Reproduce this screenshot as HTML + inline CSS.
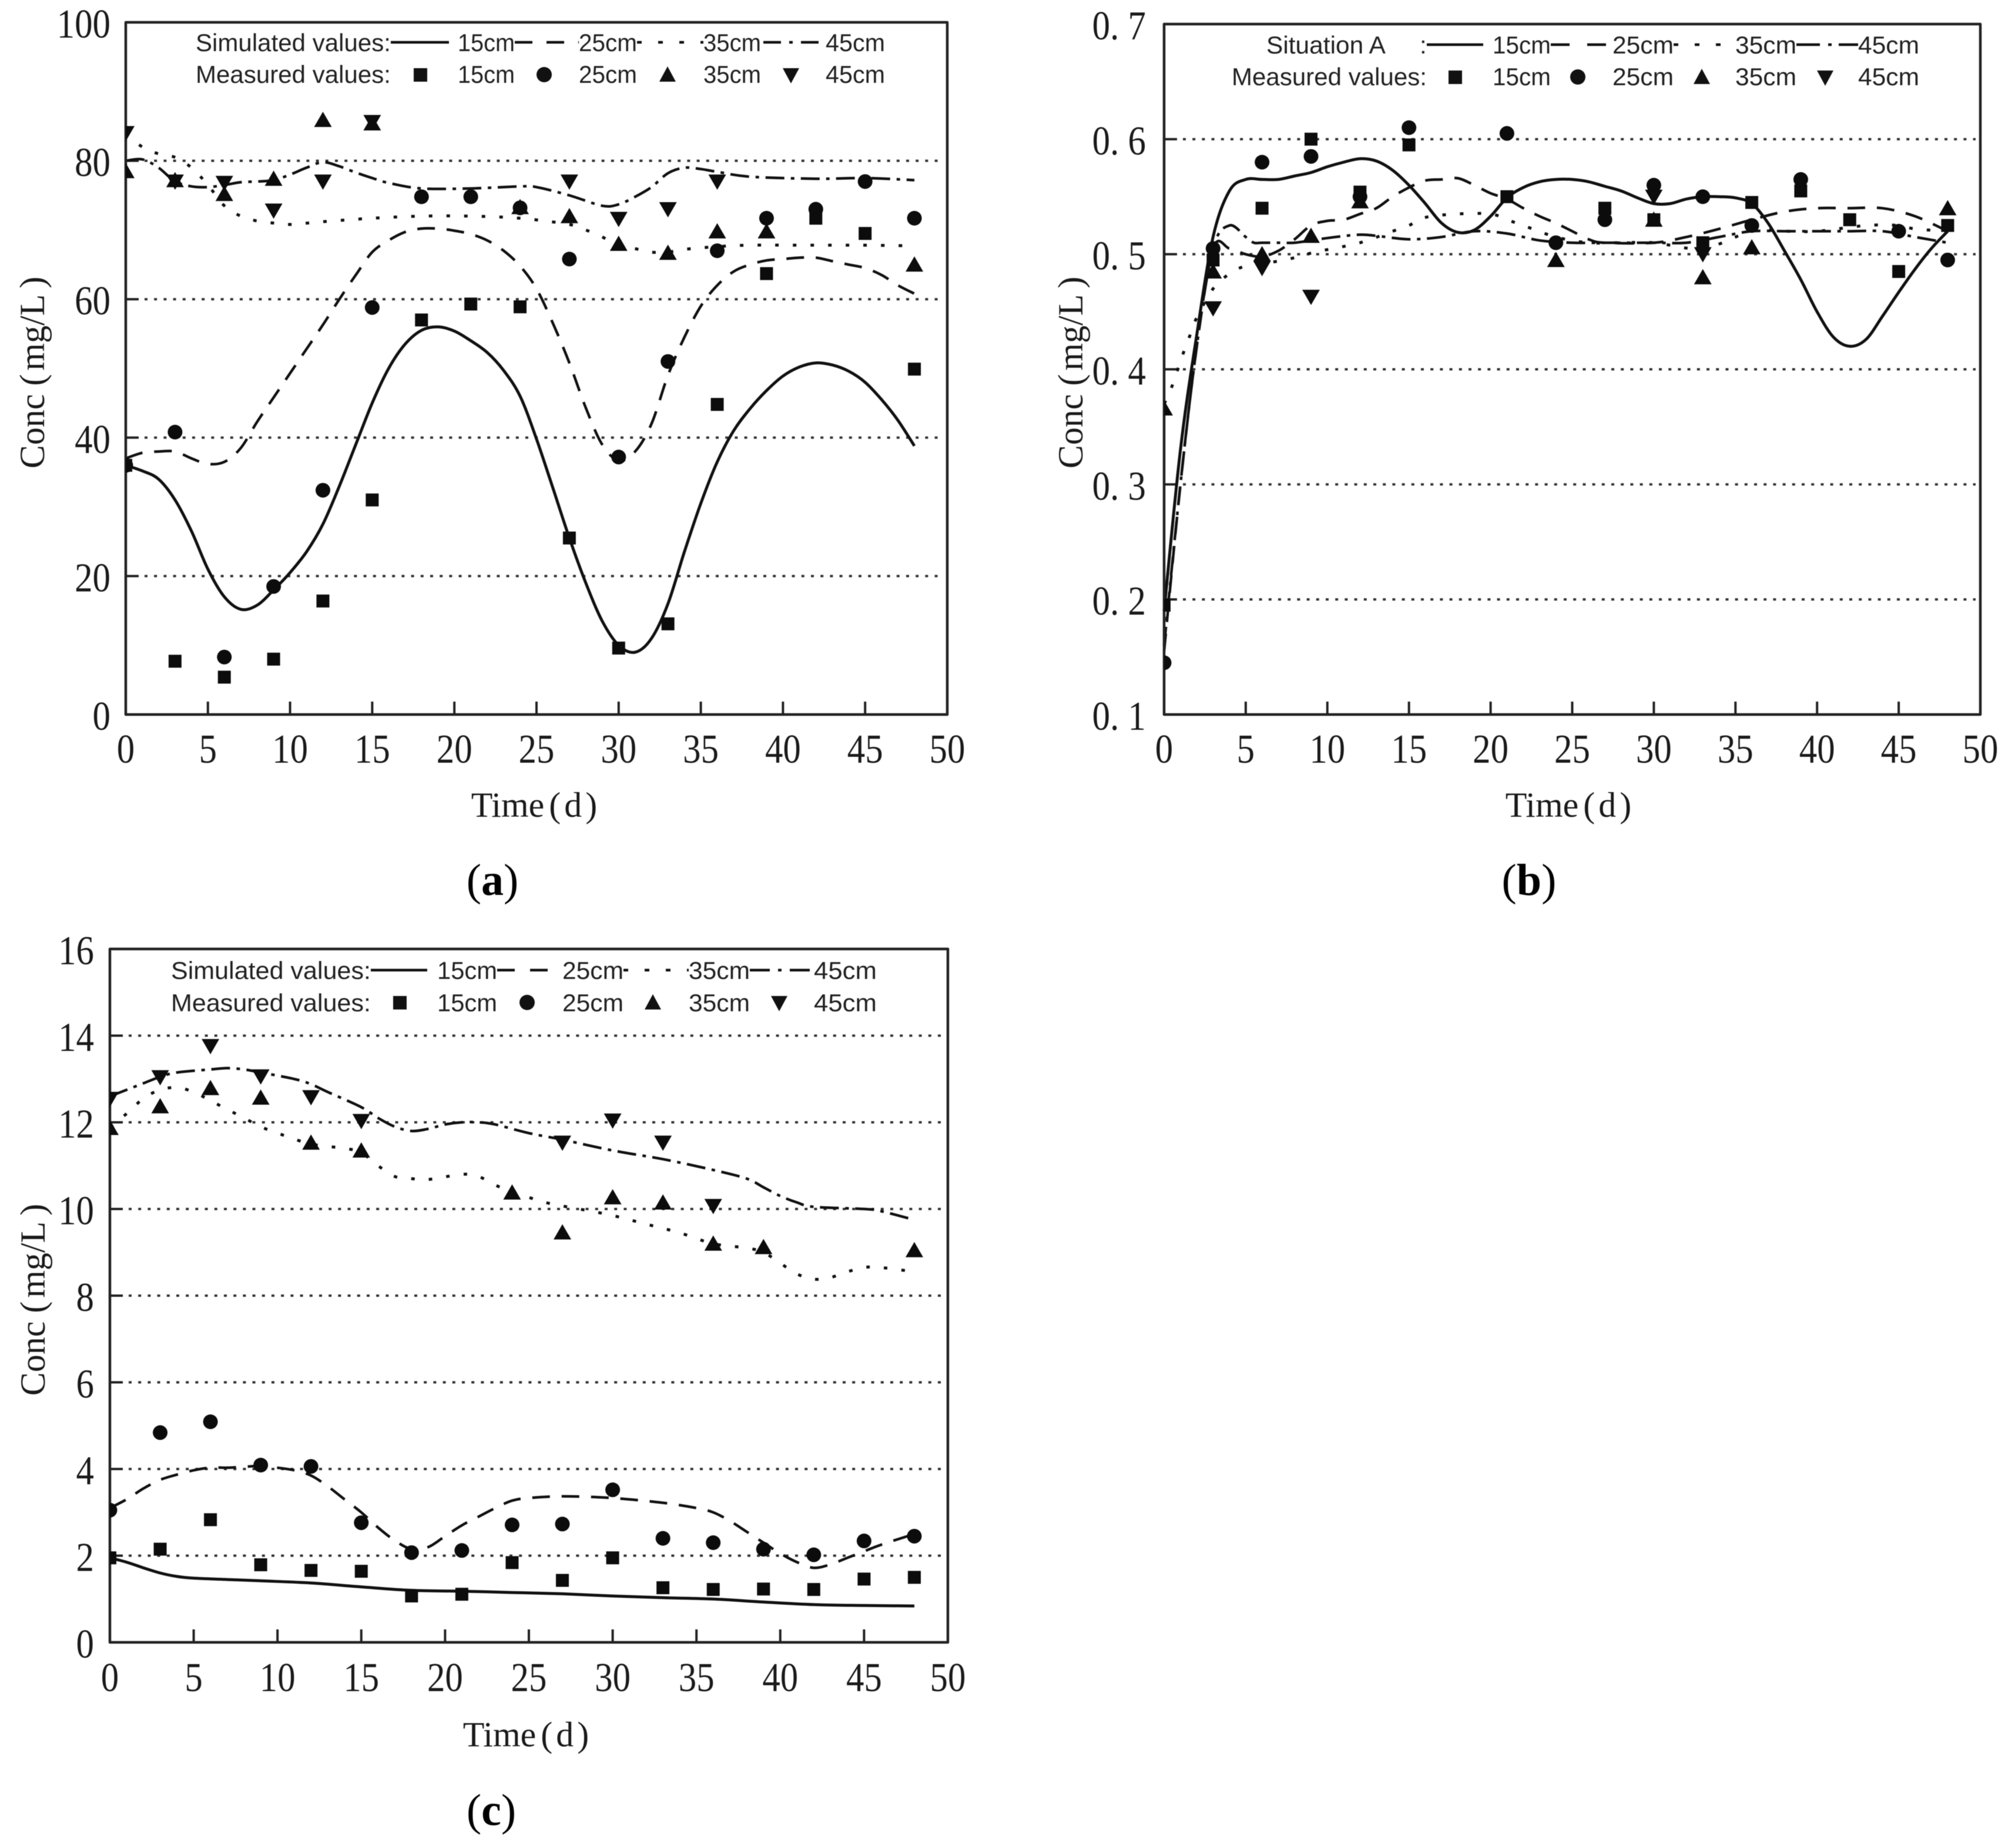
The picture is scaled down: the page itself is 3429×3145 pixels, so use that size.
<!DOCTYPE html>
<html lang="en">
<head>
<meta charset="utf-8">
<title>Simulated and measured concentration charts</title>
<style>
html,body{margin:0;padding:0;background:#fff;}
svg{display:block;filter:blur(0.6px);}
text{fill:#1a1a1a;}
.serif{font-family:"Liberation Serif","Noto Serif CJK SC",serif;}
.sans{font-family:"Liberation Sans","Noto Sans CJK SC",sans-serif;font-size:42px;fill:#222;}
.axt{font-family:"Liberation Serif","Noto Serif CJK SC",serif;font-size:60px;text-anchor:middle;}
.cap{font-family:"Liberation Serif",serif;font-size:76px;text-anchor:middle;fill:#000;}
.ls{stroke:#111;stroke-width:4.5;fill:none;}
</style>
</head>
<body>
<svg id="figure" xmlns="http://www.w3.org/2000/svg" width="3429" height="3145" viewBox="0 0 3429 3145">
<rect width="3429" height="3145" fill="#fff"/>
<defs>
<clipPath id="clip-a"><rect x="214" y="0" width="1500" height="1400"/></clipPath>
<clipPath id="clip-b"><rect x="1981" y="0" width="1448" height="1400"/></clipPath>
<clipPath id="clip-c"><rect x="187" y="1580" width="1500" height="1400"/></clipPath>
</defs>

<g id="panel-a"></g>
<g id="panel-b"></g>
<g id="panel-c"></g>

<!-- Panel (a) static labels -->
<g>
<text class="axt" x="909" y="1390">Time<tspan dx="8">(</tspan><tspan dx="6">d</tspan><tspan dx="6">)</tspan></text>
<text class="axt" transform="translate(75,634) rotate(-90)">Conc<tspan dx="14">(</tspan><tspan dx="6">mg/L</tspan><tspan dx="10">)</tspan></text>
<text class="cap" x="838" y="1523">(<tspan font-weight="bold">a</tspan>)</text>
</g>
<g>
<text class="sans" x="333" y="87" textLength="332" lengthAdjust="spacingAndGlyphs">Simulated values:</text>
<text class="sans" x="333" y="141" textLength="332" lengthAdjust="spacingAndGlyphs">Measured values:</text>
<line class="ls" x1="665" x2="764" y1="72" y2="72"/>
<line class="ls" x1="876" x2="985" y1="72" y2="72" stroke-dasharray="30 24"/>
<line class="ls" x1="1084" x2="1197" y1="72" y2="72" stroke-dasharray="8 28"/>
<line class="ls" x1="1299" x2="1405" y1="72" y2="72" stroke-dasharray="30 14 6 14"/>
<text class="sans" x="779" y="87" textLength="97" lengthAdjust="spacingAndGlyphs">15cm</text>
<text class="sans" x="985" y="87" textLength="99" lengthAdjust="spacingAndGlyphs">25cm</text>
<text class="sans" x="1197" y="87" textLength="98" lengthAdjust="spacingAndGlyphs">35cm</text>
<text class="sans" x="1405" y="87" textLength="101" lengthAdjust="spacingAndGlyphs">45cm</text>
<rect x="704" y="116" width="23" height="23" fill="#111"/>
<circle cx="926" cy="127" r="13" fill="#111"/>
<polygon points="1136,113 1150,139 1122,139" fill="#111"/>
<polygon points="1332,116 1360,116 1346,142" fill="#111"/>
<text class="sans" x="779" y="141" textLength="97" lengthAdjust="spacingAndGlyphs">15cm</text>
<text class="sans" x="985" y="141" textLength="99" lengthAdjust="spacingAndGlyphs">25cm</text>
<text class="sans" x="1197" y="141" textLength="98" lengthAdjust="spacingAndGlyphs">35cm</text>
<text class="sans" x="1405" y="141" textLength="101" lengthAdjust="spacingAndGlyphs">45cm</text>
</g>

<!-- Panel (b) static labels -->
<g>
<text class="axt" x="2669" y="1390">Time<tspan dx="8">(</tspan><tspan dx="6">d</tspan><tspan dx="6">)</tspan></text>
<text class="axt" transform="translate(1842,634) rotate(-90)">Conc<tspan dx="14">(</tspan><tspan dx="6">mg/L</tspan><tspan dx="10">)</tspan></text>
<text class="cap" x="2602" y="1523">(<tspan font-weight="bold">b</tspan>)</text>
</g>
<g>
<text class="sans" x="2155" y="91" textLength="203" lengthAdjust="spacingAndGlyphs">Situation A</text>
<text class="sans" x="2416" y="91">:</text>
<text class="sans" x="2096" y="145" textLength="332" lengthAdjust="spacingAndGlyphs">Measured values:</text>
<line class="ls" x1="2428" x2="2524" y1="76" y2="76"/>
<line class="ls" x1="2639" x2="2744" y1="76" y2="76" stroke-dasharray="32 30"/>
<line class="ls" x1="2848" x2="2953" y1="76" y2="76" stroke-dasharray="8 28"/>
<line class="ls" x1="3057" x2="3162" y1="76" y2="76" stroke-dasharray="40 14 6 12"/>
<text class="sans" x="2540" y="91" textLength="99" lengthAdjust="spacingAndGlyphs">15cm</text>
<text class="sans" x="2744" y="91" textLength="104" lengthAdjust="spacingAndGlyphs">25cm</text>
<text class="sans" x="2953" y="91" textLength="104" lengthAdjust="spacingAndGlyphs">35cm</text>
<text class="sans" x="3162" y="91" textLength="104" lengthAdjust="spacingAndGlyphs">45cm</text>
<rect x="2465" y="120" width="23" height="23" fill="#111"/>
<circle cx="2685" cy="131" r="13" fill="#111"/>
<polygon points="2896,117 2910,143 2882,143" fill="#111"/>
<polygon points="3092,120 3120,120 3106,146" fill="#111"/>
<text class="sans" x="2540" y="145" textLength="99" lengthAdjust="spacingAndGlyphs">15cm</text>
<text class="sans" x="2744" y="145" textLength="104" lengthAdjust="spacingAndGlyphs">25cm</text>
<text class="sans" x="2953" y="145" textLength="104" lengthAdjust="spacingAndGlyphs">35cm</text>
<text class="sans" x="3162" y="145" textLength="104" lengthAdjust="spacingAndGlyphs">45cm</text>
</g>

<!-- Panel (c) static labels -->
<g>
<text class="axt" x="895" y="2972">Time<tspan dx="8">(</tspan><tspan dx="6">d</tspan><tspan dx="6">)</tspan></text>
<text class="axt" transform="translate(76,2212) rotate(-90)">Conc<tspan dx="14">(</tspan><tspan dx="6">mg/L</tspan><tspan dx="10">)</tspan></text>
<text class="cap" x="836" y="3106">(<tspan font-weight="bold">c</tspan>)</text>
</g>
<g>
<text class="sans" x="291" y="1666" textLength="340" lengthAdjust="spacingAndGlyphs">Simulated values:</text>
<text class="sans" x="291" y="1721" textLength="340" lengthAdjust="spacingAndGlyphs">Measured values:</text>
<line class="ls" x1="631" x2="727" y1="1651" y2="1651"/>
<line class="ls" x1="846" x2="957" y1="1651" y2="1651" stroke-dasharray="30 26"/>
<line class="ls" x1="1061" x2="1172" y1="1651" y2="1651" stroke-dasharray="8 28"/>
<line class="ls" x1="1276" x2="1385" y1="1651" y2="1651" stroke-dasharray="34 14 6 14"/>
<text class="sans" x="744" y="1666" textLength="102" lengthAdjust="spacingAndGlyphs">15cm</text>
<text class="sans" x="957" y="1666" textLength="104" lengthAdjust="spacingAndGlyphs">25cm</text>
<text class="sans" x="1172" y="1666" textLength="104" lengthAdjust="spacingAndGlyphs">35cm</text>
<text class="sans" x="1385" y="1666" textLength="107" lengthAdjust="spacingAndGlyphs">45cm</text>
<rect x="669" y="1695" width="23" height="23" fill="#111"/>
<circle cx="897" cy="1706" r="13" fill="#111"/>
<polygon points="1111,1692 1125,1718 1097,1718" fill="#111"/>
<polygon points="1312,1695 1340,1695 1326,1721" fill="#111"/>
<text class="sans" x="744" y="1721" textLength="102" lengthAdjust="spacingAndGlyphs">15cm</text>
<text class="sans" x="957" y="1721" textLength="104" lengthAdjust="spacingAndGlyphs">25cm</text>
<text class="sans" x="1172" y="1721" textLength="104" lengthAdjust="spacingAndGlyphs">35cm</text>
<text class="sans" x="1385" y="1721" textLength="107" lengthAdjust="spacingAndGlyphs">45cm</text>
</g>
</svg>

<script>
/* ---------- shared categories ---------- */
var xTickLabels = ["0","5","10","15","20","25","30","35","40","45","50"];
var xTickValues = [0,5,10,15,20,25,30,35,40,45,50];
var measuredDays = [0,3,6,9,12,15,18,21,24,27,30,33,36,39,42,45,48];

/* ---------- panel (a) ---------- */
var aYTickValues = [0,20,40,60,80,100];
var aYTickLabels = ["0","20","40","60","80","100"];
var aMeasured15 = [36,7.7,5.4,8,16.4,31,57,59.3,58.9,25.5,9.6,13.1,44.8,63.7,71.7,69.5,49.9];
var aMeasured25 = [36,40.8,8.3,18.5,32.4,58.8,74.8,74.8,73.2,65.8,37.2,51,67,71.7,73,77,71.7];
var aMeasured35 = [78.5,77.2,75.2,77.4,85.9,85.4,null,null,73.3,72,68,66.7,69.8,69.8,null,null,65];
var aMeasured45 = [84,77,76.8,72.8,77,85.6,null,null,null,77,71.6,73,77,null,null,null,null];
var aSim15Days = [0,1,2,3,4,5,6,7,8,9,10,11,12,13,14,15,16,17,18,19,20,21,22,23,24,25,26,27,28,29,30,31,32,33,34,35,36,37,38,39,40,41,42,43,44,45,46,47,48];
var aSim15 = [36,35.2,34,31,26.5,21,17,15.2,15.8,18,20.5,23.5,27.5,33,39,45,50,53.5,55.5,56,55.4,54,52.3,49.7,46,39.8,32.7,25.5,19,13.5,10,9,11,16,23.5,30.5,36.5,41,44.2,46.8,48.9,50.2,50.8,50.5,49.6,48,45.5,42.5,38.8];
var aSim25Days = [0,1,2,3,4,5,6,7,8,9,10,11,12,13,14,15,16,17,18,19,20,21,22,23,24,25,26,27,28,29,30,31,32,33,34,35,36,37,38,39,40,41,42,43,44,45,46,47,48];
var aSim25 = [37,37.8,38,38,37,36.2,36.5,38.5,42.3,45.8,49.3,52.8,56.3,60,63.5,66.8,68.5,69.7,70.2,70.2,69.9,69.4,68.5,67,64.8,61.5,56.5,50.8,44.3,39,36.7,38,42,49,54.5,59,62,64,65,65.6,65.8,66,66,65.5,65,64.5,63.5,62,60.8];
var aSim35Days = [0,1,2,3,4,5,6,7,8,9,10,12,15,18,21,24,27,28,29,30,31,32,33,34,36,38,42,45,48];
var aSim35 = [84,82,81,80.5,79,76.5,73.5,72,71.3,71,70.8,71.2,71.7,72,72,71.7,70.8,70,69,67.7,67.3,66.8,66.8,67.2,67.6,67.8,67.8,67.8,67.7];
var aSim45Days = [0,1,2,3,4,5,6,7,8,9,10,11,12,13,14,15,16,18,21,24,25,27,29,30,31,32,33,34,35,36,38,42,45,48];
var aSim45 = [80,80.2,79,77,76.3,76.2,76.5,76.9,77,77.2,78,79,79.8,79.2,78.3,77.5,76.8,76,76,76.3,76.2,75,73.5,73.7,74.8,76.2,78.2,79,78.8,78.4,77.7,77.4,77.5,77.2];

/* ---------- panel (b) ---------- */
var bYTickValues = [0.1,0.2,0.3,0.4,0.5,0.6,0.7];
var bYTickLabels = ["0. 1","0. 2","0. 3","0. 4","0. 5","0. 6","0. 7"];
var bMeasured15 = [0.195,0.495,0.54,0.6,0.554,0.595,null,0.55,null,0.54,0.53,0.51,0.545,0.555,0.53,0.485,0.525];
var bMeasured25 = [0.145,0.505,0.58,0.585,0.55,0.61,null,0.605,0.51,0.53,0.56,0.55,0.525,0.565,null,0.52,0.495];
var bMeasured35 = [0.366,0.485,0.5,0.516,0.546,null,null,null,0.495,null,0.53,0.48,0.506,null,null,null,0.54];
var bMeasured45 = [null,0.453,0.488,0.463,null,null,null,null,null,null,0.55,0.5,null,null,null,null,null];
var bSim15Days = [0,1,2,3,4,5,6,7,8,9,10,11,12,13,14,15,16,17,18,19,20,21,22,23,24,25,26,27,28,29,30,31,32,33,34,35,36,37,38,39,40,41,42,43,44,45,46,47,48];
var bSim15 = [0.19,0.33,0.43,0.515,0.555,0.565,0.565,0.565,0.568,0.571,0.576,0.58,0.583,0.581,0.573,0.56,0.544,0.527,0.519,0.521,0.533,0.549,0.558,0.563,0.565,0.565,0.563,0.559,0.555,0.549,0.544,0.544,0.548,0.55,0.55,0.549,0.544,0.527,0.503,0.478,0.45,0.428,0.42,0.426,0.446,0.467,0.487,0.505,0.52];
var bSim25Days = [0,1,2,3,4,5,6,7,8,9,10,11,12,13,14,15,16,17,18,19,20,21,22,23,24,25,26,27,30,32,34,36,38,40,42,44,46,48];
var bSim25 = [0.155,0.3,0.42,0.505,0.505,0.5,0.498,0.503,0.513,0.525,0.529,0.53,0.535,0.54,0.55,0.558,0.564,0.565,0.566,0.56,0.553,0.548,0.54,0.533,0.527,0.52,0.513,0.51,0.51,0.515,0.522,0.53,0.537,0.54,0.54,0.54,0.533,0.52];
var bSim35Days = [0,0.4,1.2,1.6,2,3,4,5,6,7,8,9,10,12,14,15,16,18,20,21,22,24,26,28,30,33,36,38,40,43,45,46,48];
var bSim35 = [0.37,0.382,0.415,0.43,0.445,0.47,0.483,0.49,0.492,0.494,0.497,0.501,0.504,0.51,0.52,0.525,0.532,0.535,0.535,0.53,0.525,0.515,0.51,0.51,0.51,0.505,0.52,0.52,0.52,0.525,0.525,0.522,0.52];
var bSim45Days = [0,1,2,3,4,5,5.5,6,7,8,9,10.5,12,13,15,17,19,21,23,25,27,30,32,34,36,38,40,42,44,46,48];
var bSim45 = [0.16,0.3,0.42,0.505,0.525,0.515,0.51,0.51,0.51,0.51,0.512,0.515,0.517,0.516,0.513,0.515,0.52,0.518,0.512,0.51,0.51,0.51,0.51,0.515,0.52,0.52,0.52,0.52,0.52,0.515,0.51];

/* ---------- panel (c) ---------- */
var cYTickValues = [0,2,4,6,8,10,12,14,16];
var cYTickLabels = ["0","2","4","6","8","10","12","14","16"];
var cMeasured15 = [1.95,2.15,2.83,1.79,1.66,1.64,1.07,1.11,1.84,1.43,1.95,1.26,1.22,1.23,1.22,1.46,1.5];
var cMeasured25 = [3.05,4.84,5.09,4.09,4.06,2.76,2.07,2.12,2.71,2.73,3.52,2.4,2.3,2.15,2.02,2.34,2.45];
var cMeasured35 = [11.87,12.37,12.79,12.57,11.53,11.35,null,null,10.38,9.46,10.27,10.15,9.2,9.12,null,null,9.05];
var cMeasured45 = [12.54,13.04,13.76,13.06,12.58,12.03,null,null,null,11.53,12.04,11.53,10.07,null,null,null,null];
var cSim15Days = [0,1,2,3,4,5,7,9,12,15,18,21,24,27,30,33,36,39,42,45,48];
var cSim15 = [1.95,1.85,1.72,1.6,1.52,1.48,1.45,1.42,1.37,1.28,1.2,1.18,1.15,1.12,1.07,1.03,1,0.93,0.87,0.85,0.84];
var cSim25Days = [0,1,2,3,4,5,6,7,8,9,10,11,12,13,14,15,16,17,18,19,20,21,22,23,24,25,27,30,33,35,36,37,38,39,40,41,42,43,44,45,46,48];
var cSim25 = [3.1,3.3,3.55,3.75,3.87,3.97,4.03,4.03,4.05,4.07,4.03,3.97,3.85,3.6,3.3,3,2.65,2.35,2.15,2.2,2.45,2.7,2.9,3.1,3.27,3.33,3.37,3.33,3.22,3.1,3,2.8,2.55,2.3,2.05,1.85,1.72,1.8,1.95,2.1,2.25,2.5];
var cSim35Days = [0,1,2,3,4,5,6,7,8,9,10,12,14,15,16,17,18,19,21,22,23,24,26,28,30,32,34,36,38,39,40,41,42,43,44,45,46,48];
var cSim35 = [11.9,12.2,12.55,12.75,12.8,12.7,12.5,12.3,12.1,11.9,11.75,11.5,11.4,11.3,11,10.75,10.7,10.68,10.8,10.75,10.55,10.4,10.15,10,9.85,9.65,9.45,9.2,9.1,9,8.75,8.5,8.38,8.42,8.55,8.65,8.65,8.55];
var cSim45Days = [0,1,2,3,4,6,7,8,9,11,12,13,15,16,17,18,19,20,21,22,23,25,27,30,33,36,38,39,40,41,42,45,46,48];
var cSim45 = [12.6,12.75,12.9,13.05,13.15,13.22,13.25,13.22,13.15,13,12.88,12.7,12.35,12.1,11.9,11.8,11.85,11.95,12,12,11.95,11.75,11.6,11.35,11.15,10.9,10.7,10.5,10.3,10.15,10.05,10,9.95,9.75];

var SVGNS = "http://www.w3.org/2000/svg";

function node(parent, tag, attrs) {
  var el = document.createElementNS(SVGNS, tag);
  for (var k in attrs) { el.setAttribute(k, attrs[k]); }
  parent.appendChild(el);
  return el;
}

function curvePath(px) {
  var d = "M" + px[0][0].toFixed(1) + " " + px[0][1].toFixed(1);
  for (var i = 0; i < px.length - 1; i++) {
    var p0 = px[i === 0 ? 0 : i - 1], p1 = px[i], p2 = px[i + 1];
    var p3 = px[i + 2 < px.length ? i + 2 : i + 1];
    d += " C" + (p1[0] + (p2[0] - p0[0]) / 6).toFixed(1) + " " + (p1[1] + (p2[1] - p0[1]) / 6).toFixed(1) +
         " " + (p2[0] - (p3[0] - p1[0]) / 6).toFixed(1) + " " + (p2[1] - (p3[1] - p1[1]) / 6).toFixed(1) +
         " " + p2[0].toFixed(1) + " " + p2[1].toFixed(1);
  }
  return d;
}

function drawMarker(g, kind, cx, cy) {
  var el;
  if (kind === "square") {
    el = node(g, "rect", {x: cx - 11, y: cy - 11, width: 22, height: 22, fill: "#0c0c0c"});
  } else if (kind === "circle") {
    el = node(g, "circle", {cx: cx, cy: cy, r: 12.5, fill: "#0c0c0c"});
  } else if (kind === "triangle") {
    el = node(g, "polygon", {points: cx + "," + (cy - 14) + " " + (cx + 15) + "," + (cy + 12) + " " + (cx - 15) + "," + (cy + 12), fill: "#0c0c0c"});
  } else {
    el = node(g, "polygon", {points: (cx - 15) + "," + (cy - 12) + " " + (cx + 15) + "," + (cy - 12) + " " + cx + "," + (cy + 14), fill: "#0c0c0c"});
  }
  
  
}

function drawPanel(cfg) {
  var g = document.getElementById(cfg.id);
  function sx(v) { return cfg.left + (v - 0) / 50 * (cfg.right - cfg.left); }
  function sy(v) { return cfg.bottom - (v - cfg.yMin) / (cfg.yMax - cfg.yMin) * (cfg.bottom - cfg.top); }

  /* gridlines and inward y ticks */
  cfg.yTicks.forEach(function (v) {
    if (v === cfg.yMin || v === cfg.yMax) { return; }
    var l = node(g, "line", {x1: cfg.left + 32, x2: cfg.right - 8, y1: sy(v), y2: sy(v), stroke: "#333", "stroke-width": 4, "stroke-dasharray": "5 11.2"});
    
    
    var t = node(g, "line", {x1: cfg.left, x2: cfg.left + 22, y1: sy(v), y2: sy(v), stroke: "#222", "stroke-width": 4});
    
    
  });

  /* simulated lines */
  cfg.lines.forEach(function (s) {
    var px = s.days.map(function (d, i) { return [sx(d), sy(s.values[i])]; });
    var p = node(g, "path", {d: curvePath(px), fill: "none", stroke: "#111", "stroke-width": s.w, "stroke-dasharray": s.dash, "stroke-linecap": "butt"});
    
    
  });

  /* frame */
  var frame = node(g, "rect", {x: cfg.left, y: cfg.top, width: cfg.right - cfg.left, height: cfg.bottom - cfg.top, fill: "none", stroke: "#222", "stroke-width": 4.5, "stroke-linejoin": "round"});
  
  

  /* x ticks and labels */
  xTickValues.forEach(function (v, i) {
    if (i > 0 && i < xTickValues.length - 1) {
      var t = node(g, "line", {x1: sx(v), x2: sx(v), y1: cfg.bottom, y2: cfg.bottom - 22, stroke: "#222", "stroke-width": 4});
      
      
    }
    var tx = node(g, "text", {"class": "serif", "font-size": 70, "text-anchor": "middle", transform: "translate(" + sx(v) + "," + (cfg.bottom + cfg.xLabelOffset) + ") scale(.87,1)"});
    tx.textContent = xTickLabels[i];
    
    
  });

  /* y tick labels */
  cfg.yTicks.forEach(function (v, i) {
    var tx = node(g, "text", {"class": "serif", "font-size": 70, "text-anchor": "end", transform: "translate(" + cfg.yLabelRight + "," + (sy(v) + 26) + ") scale(.87,1)"});
    tx.textContent = cfg.yLabels[i];
    
    
  });

  /* measured markers, clipped at the left axis */
  var markers = node(g, "g", {"clip-path": "url(#" + cfg.clip + ")"});
  
  
  cfg.points.forEach(function (s) {
    s.values.forEach(function (v, i) {
      if (v === null) { return; }
      drawMarker(markers, s.kind, sx(measuredDays[i]), sy(v));
    });
  });
}

var styles = {
  s15: {w: 5, dash: "none"},
  s25: {w: 4.5, dash: "30 20"},
  s35: {w: 5, dash: "6 24"},
  s45: {w: 4.5, dash: "32 11 6 11"}
};

function lineSet(d15, v15, d25, v25, d35, v35, d45, v45) {
  return [
    {name: "15cm", days: d15, values: v15, w: styles.s15.w, dash: styles.s15.dash},
    {name: "25cm", days: d25, values: v25, w: styles.s25.w, dash: styles.s25.dash},
    {name: "35cm", days: d35, values: v35, w: styles.s35.w, dash: styles.s35.dash},
    {name: "45cm", days: d45, values: v45, w: styles.s45.w, dash: styles.s45.dash}
  ];
}

function pointSet(m15, m25, m35, m45) {
  return [
    {kind: "square", values: m15},
    {kind: "circle", values: m25},
    {kind: "triangle", values: m35},
    {kind: "inverted-triangle", values: m45}
  ];
}

drawPanel({
  id: "panel-a", clip: "clip-a", left: 214, right: 1612, top: 38, bottom: 1216, yMin: 0, yMax: 100,
  yTicks: aYTickValues, yLabels: aYTickLabels, yLabelRight: 188, xLabelOffset: 82,
  lines: lineSet(aSim15Days, aSim15, aSim25Days, aSim25, aSim35Days, aSim35, aSim45Days, aSim45),
  points: pointSet(aMeasured15, aMeasured25, aMeasured35, aMeasured45)
});

drawPanel({
  id: "panel-b", clip: "clip-b", left: 1981, right: 3370, top: 41, bottom: 1216, yMin: 0.1, yMax: 0.7,
  yTicks: bYTickValues, yLabels: bYTickLabels, yLabelRight: 1950, xLabelOffset: 82,
  lines: lineSet(bSim15Days, bSim15, bSim25Days, bSim25, bSim35Days, bSim35, bSim45Days, bSim45),
  points: pointSet(bMeasured15, bMeasured25, bMeasured35, bMeasured45)
});

drawPanel({
  id: "panel-c", clip: "clip-c", left: 187, right: 1613, top: 1615, bottom: 2795, yMin: 0, yMax: 16,
  yTicks: cYTickValues, yLabels: cYTickLabels, yLabelRight: 160, xLabelOffset: 83,
  lines: lineSet(cSim15Days, cSim15, cSim25Days, cSim25, cSim35Days, cSim35, cSim45Days, cSim45),
  points: pointSet(cMeasured15, cMeasured25, cMeasured35, cMeasured45)
});
</script>
</body>
</html>
